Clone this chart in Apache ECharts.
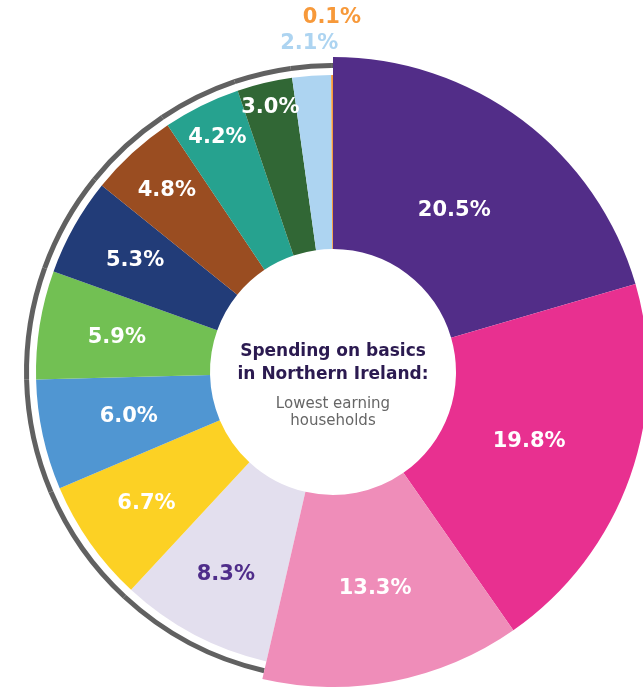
<!DOCTYPE html>
<html>
<head>
<meta charset="utf-8">
<script src="https://cdn.jsdelivr.net/npm/echarts@6/dist/echarts.min.js"></script>
<style>
  html, body { margin: 0; padding: 0; background: #fff; }
  #pieChart { width: 643px; height: 687px; }
</style>
</head>
<body>
<div id="pieChart"></div>
<script>
// shares of spending, clockwise from 12 o'clock
var shares = [20.5, 19.8, 13.3, 8.3, 6.7, 6.0, 5.9, 5.3, 4.8, 4.2, 3.0, 2.1, 0.1]
var bigCount = 3 // first three slices drawn with the larger radius

var sliceColors = ['#522D88', '#E83090', '#EF8DB9', '#E3DFEE', '#FCD124', '#5096D2',
  '#72C053', '#223C78', '#9A4D21', '#26A28F', '#316735', '#ADD4F1', '#F7993A']
var labelColors = ['#fff', '#fff', '#fff', '#4F2D8A', '#fff', '#fff',
  '#fff', '#fff', '#fff', '#fff', '#fff', '#ADD4F1', '#F7993A']
// distance of each label from the centre
var labelRadius = [202, 208, 221, 229, 228, 209, 219, 227, 246, 261, 272, 329, 354]

var CX = 333, CY = 372
var fontNum = '"DejaVu Sans", sans-serif'

function buildData(colorFn) {
  return shares.map(function (v, i) {
    return { value: v, itemStyle: { color: colorFn(i) } }
  })
}

var pieChart = echarts.init(document.getElementById('pieChart'))
var option = {
  animation: false,
  backgroundColor: '#fff',
  graphic: [
    { type: 'text', x: CX, y: 352, style: { text: 'Spending on basics', align: 'center', verticalAlign: 'middle', fill: '#2B1A50', font: 'bold 17px ' + fontNum } },
    { type: 'text', x: CX, y: 375, style: { text: 'in Northern Ireland:', align: 'center', verticalAlign: 'middle', fill: '#2B1A50', font: 'bold 17px ' + fontNum } },
    { type: 'text', x: CX, y: 404, style: { text: 'Lowest earning', align: 'center', verticalAlign: 'middle', fill: '#666', font: '15px ' + fontNum } },
    { type: 'text', x: CX, y: 421, style: { text: 'households', align: 'center', verticalAlign: 'middle', fill: '#666', font: '15px ' + fontNum } }
  ],
  series: [
    {
      // grey outline round the smaller slices
      type: 'pie',
      center: [CX, CY],
      radius: [304, 309],
      silent: true,
      label: { show: false },
      labelLine: { show: false },
      itemStyle: { borderWidth: 0 },
      emphasis: { disabled: true },
      data: buildData(function (i) { return i < bigCount ? 'transparent' : '#616161' })
    },
    {
      type: 'pie',
      center: [CX, CY],
      radius: [123, 297],
      silent: true,
      label: { show: false },
      labelLine: { show: false },
      itemStyle: { borderWidth: 0 },
      emphasis: { disabled: true },
      data: buildData(function (i) { return i < bigCount ? 'transparent' : sliceColors[i] })
    },
    {
      type: 'pie',
      center: [CX, CY],
      radius: [123, 315],
      silent: true,
      itemStyle: { borderWidth: 0 },
      emphasis: { disabled: true },
      labelLine: { show: false },
      label: {
        show: true,
        position: 'inside',
        fontFamily: fontNum,
        fontWeight: 'bold',
        fontSize: 21,
        formatter: function (p) { return p.value.toFixed(1) + '%' },
        color: '#fff'
      },
      labelLayout: function (p) {
        var r = labelRadius[p.dataIndex]
        var lx = p.labelRect.x + p.labelRect.width / 2
        var ly = p.labelRect.y + p.labelRect.height / 2
        var vx = lx - CX, vy = ly - CY
        var d = Math.sqrt(vx * vx + vy * vy) || 1
        return { dx: vx / d * (r - d), dy: vy / d * (r - d) }
      },
      data: shares.map(function (v, i) {
        return {
          value: v,
          itemStyle: { color: i < bigCount ? sliceColors[i] : 'transparent' },
          label: { color: labelColors[i] }
        }
      })
    }
  ]
}
pieChart.setOption(option)
</script>
</body>
</html>
